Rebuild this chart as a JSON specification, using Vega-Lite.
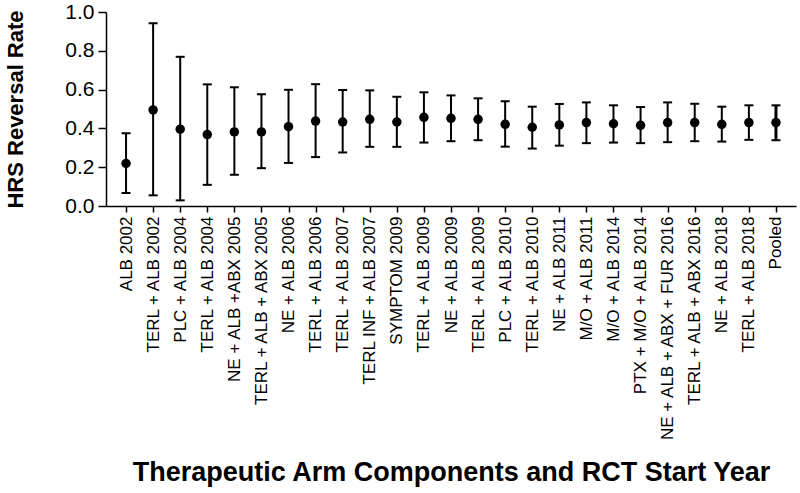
{
  "$schema": "https://vega.github.io/schema/vega-lite/v6.json",
  "width": 690,
  "height": 194,
  "autosize": {"type": "none"},
  "padding": {"left": 106, "top": 12, "right": 4, "bottom": 287},
  "background": "white",
  "config": {
    "view": {"stroke": null},
    "font": "Liberation Sans",
    "axisY": {
      "titleFontSize": 22,
      "titleFontWeight": "bold",
      "titleColor": "black",
      "labelFontSize": 21,
      "labelColor": "black",
      "labelPadding": 4,
      "labelOverlap": false,
      "labelFlush": false,
      "tickSize": 8,
      "tickColor": "black",
      "tickWidth": 1.5,
      "domainColor": "black",
      "domainWidth": 1.5,
      "grid": false
    }
  },
  "data": {
    "values": [
      {"arm": "ALB 2002", "rate": 0.219, "lo": 0.067, "hi": 0.375},
      {"arm": "TERL + ALB 2002", "rate": 0.495, "lo": 0.055, "hi": 0.942},
      {"arm": "PLC + ALB 2004", "rate": 0.396, "lo": 0.029, "hi": 0.769},
      {"arm": "TERL + ALB 2004", "rate": 0.368, "lo": 0.109, "hi": 0.627},
      {"arm": "NE + ALB +ABX 2005", "rate": 0.382, "lo": 0.161, "hi": 0.612},
      {"arm": "TERL + ALB + ABX 2005", "rate": 0.382, "lo": 0.195, "hi": 0.576},
      {"arm": "NE + ALB 2006", "rate": 0.409, "lo": 0.222, "hi": 0.599},
      {"arm": "TERL + ALB 2006", "rate": 0.438, "lo": 0.252, "hi": 0.628},
      {"arm": "TERL + ALB 2007", "rate": 0.433, "lo": 0.276, "hi": 0.598},
      {"arm": "TERL INF + ALB 2007", "rate": 0.447, "lo": 0.305, "hi": 0.596},
      {"arm": "SYMPTOM 2009", "rate": 0.433, "lo": 0.305, "hi": 0.563},
      {"arm": "TERL + ALB 2009", "rate": 0.457, "lo": 0.327, "hi": 0.586},
      {"arm": "NE + ALB 2009", "rate": 0.452, "lo": 0.334, "hi": 0.570},
      {"arm": "TERL + ALB 2009\u200b", "rate": 0.447, "lo": 0.339, "hi": 0.555},
      {"arm": "PLC + ALB 2010", "rate": 0.421, "lo": 0.306, "hi": 0.540},
      {"arm": "TERL + ALB 2010", "rate": 0.406, "lo": 0.296, "hi": 0.512},
      {"arm": "NE + ALB 2011", "rate": 0.418, "lo": 0.311, "hi": 0.526},
      {"arm": "M/O + ALB 2011", "rate": 0.430, "lo": 0.324, "hi": 0.534},
      {"arm": "M/O + ALB 2014", "rate": 0.424, "lo": 0.327, "hi": 0.519},
      {"arm": "PTX + M/O + ALB 2014", "rate": 0.416, "lo": 0.324, "hi": 0.510},
      {"arm": "NE + ALB + ABX + FUR 2016", "rate": 0.430, "lo": 0.329, "hi": 0.534},
      {"arm": "TERL + ALB + ABX 2016", "rate": 0.430, "lo": 0.334, "hi": 0.527},
      {"arm": "NE + ALB 2018", "rate": 0.421, "lo": 0.332, "hi": 0.512},
      {"arm": "TERL + ALB 2018", "rate": 0.430, "lo": 0.341, "hi": 0.519},
      {"arm": "Pooled", "rate": 0.430, "lo": 0.339, "hi": 0.519}
    ]
  },
  "encoding": {
    "x": {
      "field": "arm",
      "type": "nominal",
      "sort": null,
      "scale": {"type": "point", "padding": 0.74},
      "axis": {
        "title": "Therapeutic Arm Components and RCT Start Year",
        "titleFontSize": 27,
        "titleFontWeight": "bold",
        "titleColor": "black",
        "titleBaseline": "alphabetic",
        "titleY": 274,
        "labelAngle": -90,
        "labelAlign": "right",
        "labelBaseline": "middle",
        "labelFontSize": 17,
        "labelColor": "black",
        "labelPadding": 4,
        "labelOverlap": false,
        "labelLimit": 0,
        "tickSize": 6,
        "tickColor": "black",
        "tickWidth": 1.5,
        "domainColor": "black",
        "domainWidth": 1.5,
        "grid": false
      }
    }
  },
  "layer": [
    {
      "mark": {"type": "rule", "color": "black"},
      "encoding": {
        "y": {
          "field": "lo",
          "type": "quantitative",
          "scale": {"domain": [0, 1], "nice": false},
          "axis": {"title": "HRS Reversal Rate", "titleX": -84, "titleY": 97, "titleAngle": -90, "titleBaseline": "alphabetic", "values": [0, 0.2, 0.4, 0.6, 0.8, 1.0], "format": ".1f"}
        },
        "y2": {"field": "hi"},
        "strokeWidth": {"condition": {"test": "datum.arm === 'Pooled'", "value": 3}, "value": 2}
      }
    },
    {
      "mark": {"type": "tick", "color": "black", "thickness": 2, "size": 9, "opacity": 1},
      "encoding": {"y": {"field": "lo", "type": "quantitative", "axis": {"title": "HRS Reversal Rate", "titleX": -84, "titleY": 97, "titleAngle": -90, "titleBaseline": "alphabetic", "values": [0, 0.2, 0.4, 0.6, 0.8, 1.0], "format": ".1f"}}}
    },
    {
      "mark": {"type": "tick", "color": "black", "thickness": 2, "size": 9, "opacity": 1},
      "encoding": {"y": {"field": "hi", "type": "quantitative", "axis": {"title": "HRS Reversal Rate", "titleX": -84, "titleY": 97, "titleAngle": -90, "titleBaseline": "alphabetic", "values": [0, 0.2, 0.4, 0.6, 0.8, 1.0], "format": ".1f"}}}
    },
    {
      "mark": {"type": "point", "filled": true, "color": "black", "size": 90, "opacity": 1},
      "encoding": {"y": {"field": "rate", "type": "quantitative", "axis": {"title": "HRS Reversal Rate", "titleX": -84, "titleY": 97, "titleAngle": -90, "titleBaseline": "alphabetic", "values": [0, 0.2, 0.4, 0.6, 0.8, 1.0], "format": ".1f"}}}
    }
  ]
}
